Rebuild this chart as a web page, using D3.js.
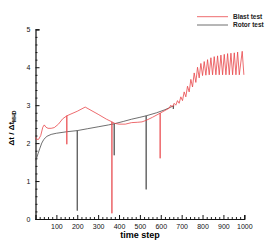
<!DOCTYPE html>
<html>
<head>
<meta charset="utf-8">
<script src="https://cdn.jsdelivr.net/npm/d3@7"></script>
<style>
  body { margin: 0; background: #fff; }
  text { font-family: "Liberation Sans", Arial, sans-serif; }
</style>
</head>
<body>
<div id="chart"></div>
<script>
// Blast test (red)
const blastSteps = [0, 5, 15, 25, 35, 42, 50, 60, 75, 90, 110, 130, 150, 150, 150, 200, 238, 300, 340, 366, 366, 366,
    380, 400, 430, 460, 490, 510, 530, 560, 597, 597, 597, 620, 640,
    648, 656, 664, 672, 680, 688, 696, 704, 712, 720, 728, 736, 744, 752, 760, 768, 776, 784, 792, 800,
    808, 816, 824, 832, 840, 848, 856, 864, 872, 880, 888, 896, 904, 912, 920, 928, 936, 944, 952, 960,
    968, 976, 990, 998];
const blastVals = [2.15, 2.1, 2.1, 2.2, 2.42, 2.48, 2.42, 2.39, 2.39, 2.41, 2.5, 2.64, 2.72, 1.97, 2.72, 2.84, 2.95, 2.76, 2.63, 2.56, 0.15, 2.56,
    2.52, 2.5, 2.5, 2.54, 2.55, 2.56, 2.6, 2.68, 2.79, 1.6, 2.79, 2.86, 2.92,
    3.0, 2.95, 3.05, 3.0, 3.12, 3.05, 3.22, 3.12, 3.35, 3.22, 3.5, 3.35, 3.68, 3.48, 3.85, 3.6, 4.0, 3.72, 4.1, 3.78,
    4.15, 3.79, 4.2, 3.8, 4.25, 3.8, 4.28, 3.8, 4.3, 3.8, 4.32, 3.8, 4.34, 3.8, 4.36, 3.8, 4.37, 3.8, 4.38, 3.8,
    4.4, 3.8, 4.42, 3.8];

// Rotor test (black)
const rotorSteps = [0, 5, 12, 20, 30, 40, 55, 75, 100, 150, 200, 200, 200, 250, 300, 350, 377, 377, 377,
    420, 460, 500, 530, 530, 530, 580, 620, 660, 660, 662];
const rotorVals = [1.55, 1.6, 1.72, 1.85, 2.0, 2.1, 2.18, 2.23, 2.26, 2.3, 2.33, 0.22, 2.33, 2.38, 2.43, 2.48, 2.51, 1.68, 2.51,
    2.57, 2.63, 2.68, 2.72, 0.78, 2.72, 2.8, 2.88, 2.98, 2.9, 3.0];

const xTicks = [100, 200, 300, 400, 500, 600, 700, 800, 900, 1000];
const yTicks = [0, 1, 2, 3, 4, 5];
const seriesNames = ["Blast test", "Rotor test"];
const seriesColors = ["#e8464a", "#4a4a4a"];

var W = 277, H = 246;
var margin = {top: 29.3, right: 32.7, bottom: 27, left: 35.5};
var width = W - margin.left - margin.right,
    height = H - margin.top - margin.bottom;

var svg = d3.select("#chart").append("svg")
    .attr("width", W)
    .attr("height", H);

var g = svg.append("g")
    .attr("transform", "translate(" + margin.left + "," + margin.top + ")");

var x = d3.scaleLinear().domain([0, 1000]).range([0, width]);
var y = d3.scaleLinear().domain([0, 5]).range([height, 0]);
var fmt = d3.format("d");

// minor ticks
g.append("g")
    .attr("transform", "translate(0," + height + ")")
    .call(d3.axisTop(x).tickValues(d3.range(20, 1000, 20).filter(v => v % 100)).tickSize(2).tickFormat(""))
    .call(a => a.select(".domain").remove())
    .selectAll("line").attr("stroke", "#222");
g.append("g")
    .call(d3.axisRight(y).tickValues(d3.range(1, 25).map(v => v * 0.2).filter(v => Math.abs(v - Math.round(v)) > 0.01)).tickSize(2).tickFormat(""))
    .call(a => a.select(".domain").remove())
    .selectAll("line").attr("stroke", "#222");

// major ticks with labels
var xAxis = g.append("g")
    .attr("transform", "translate(0," + height + ")")
    .call(d3.axisBottom(x).tickValues(xTicks).tickSize(0).tickPadding(5).tickFormat(fmt));
xAxis.select(".domain").remove();
xAxis.selectAll("text").attr("font-size", 7).attr("fill", "#111")
    .attr("font-family", "Liberation Sans, Arial, sans-serif");
g.append("g")
    .attr("transform", "translate(0," + height + ")")
    .call(d3.axisTop(x).tickValues(xTicks).tickSize(4).tickFormat(""))
    .call(a => a.select(".domain").attr("stroke", "#111").attr("stroke-width", 1.2))
    .selectAll("line").attr("stroke", "#111");

var yAxis = g.append("g")
    .call(d3.axisLeft(y).tickValues(yTicks).tickSize(0).tickPadding(5).tickFormat(fmt));
yAxis.select(".domain").remove();
yAxis.selectAll("text").attr("font-size", 7).attr("fill", "#111")
    .attr("font-family", "Liberation Sans, Arial, sans-serif");
g.append("g")
    .call(d3.axisRight(y).tickValues(yTicks).tickSize(4).tickFormat(""))
    .call(a => a.select(".domain").attr("stroke", "#111").attr("stroke-width", 1.2))
    .selectAll("line").attr("stroke", "#111");

// lines
var line = d3.line().x(d => x(d[0])).y(d => y(d[1]));
var blast = d3.zip(blastSteps, blastVals);
var rotor = d3.zip(rotorSteps, rotorVals);

g.append("path").datum(rotor)
    .attr("fill", "none").attr("stroke", seriesColors[1]).attr("stroke-width", 0.8)
    .attr("d", line);
g.append("path").datum(blast)
    .attr("fill", "none").attr("stroke", seriesColors[0]).attr("stroke-width", 0.8)
    .attr("d", line);

// axis titles
svg.append("text")
    .attr("x", 140).attr("y", 238)
    .attr("text-anchor", "middle")
    .attr("font-size", 9).attr("font-weight", "bold")
    .text("time step");

var yl = svg.append("text")
    .attr("transform", "translate(14,128) rotate(-90)")
    .attr("text-anchor", "middle")
    .attr("font-size", 8).attr("font-weight", "bold");
yl.append("tspan").text("\u0394t / \u0394t");
yl.append("tspan").attr("font-size", 5).attr("dy", 2).text("MHD");

// legend
var legend = svg.append("g");
seriesNames.forEach(function (name, i) {
    var ly = 16.7 + i * 8.3;
    legend.append("line")
        .attr("x1", 197).attr("x2", 228)
        .attr("y1", ly).attr("y2", ly)
        .attr("stroke", seriesColors[i]).attr("stroke-width", 0.8);
    legend.append("text")
        .attr("x", 233).attr("y", ly + 2.4)
        .attr("font-size", 6.5).attr("font-weight", "bold").attr("fill", "#222")
        .text(name);
});
</script>
</body>
</html>
